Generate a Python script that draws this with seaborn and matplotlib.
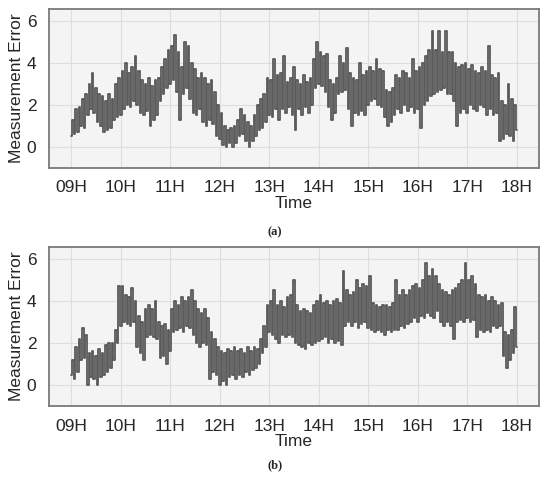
import matplotlib
matplotlib.use("Agg")
import matplotlib.pyplot as plt
import seaborn as sns
import numpy as np
import pandas as pd

# measurement error read every 2 minutes, 09:00 -> 18:00 (one row = 20 min)
step_min = 2
err_a = [
    0.5, 1.3, 0.6, 1.8, 0.7, 1.9, 1.0, 2.3, 0.9, 2.5,
    1.5, 3.0, 1.8, 3.5, 1.6, 2.8, 1.2, 2.5, 1.0, 2.4,
    0.7, 2.2, 0.8, 2.5, 0.9, 2.3, 1.3, 3.0, 1.4, 3.3,
    1.5, 3.6, 1.8, 4.0, 2.0, 3.5, 1.9, 3.8, 2.2, 4.3,
    2.0, 3.6, 1.6, 3.2, 1.5, 3.0, 1.7, 3.3, 1.0, 2.9,
    1.3, 3.2, 1.5, 3.3, 2.2, 3.8, 2.5, 4.2, 2.8, 4.6,
    3.0, 4.8, 3.2, 5.3, 2.6, 4.5, 1.3, 3.8, 2.5, 5.0,
    2.8, 4.8, 2.3, 4.0, 1.6, 3.7, 1.5, 3.3, 1.8, 3.5,
    1.2, 3.3, 1.0, 3.0, 1.3, 3.2, 1.1, 2.6, 0.5, 2.0,
    0.4, 1.6, 0.1, 1.0, 0.0, 0.8, 0.2, 0.9, 0.0, 1.0,
    0.2, 1.3, 0.5, 1.8, 0.6, 1.5, 0.3, 1.2, 0.0, 1.0,
    0.3, 1.5, 0.5, 2.0, 0.8, 2.3, 0.9, 2.5, 1.2, 3.3,
    1.5, 3.2, 1.4, 4.2, 1.8, 3.4, 1.3, 3.5, 1.8, 4.3,
    1.6, 3.1, 1.9, 3.3, 1.5, 3.8, 0.8, 3.2, 1.8, 3.0,
    1.5, 3.4, 1.9, 3.1, 1.6, 3.3, 2.0, 4.2, 2.8, 5.0,
    3.0, 4.5, 2.9, 4.3, 2.6, 4.4, 1.9, 3.2, 1.3, 3.0,
    1.6, 3.3, 2.5, 4.3, 2.6, 4.0, 2.7, 4.7, 1.8, 3.5,
    1.0, 3.3, 1.6, 3.2, 1.5, 4.0, 1.7, 3.4, 1.5, 3.6,
    2.0, 3.8, 2.2, 3.6, 2.3, 4.2, 2.0, 3.7, 1.9, 3.6,
    1.4, 2.7, 1.0, 2.6, 1.2, 2.8, 1.5, 3.4, 1.8, 3.3,
    1.6, 3.6, 2.0, 3.5, 1.7, 3.3, 1.9, 4.2, 1.6, 3.6,
    1.8, 3.8, 0.9, 4.0, 2.0, 4.3, 2.2, 4.6, 2.4, 5.5,
    2.5, 4.6, 2.6, 5.5, 2.7, 4.5, 2.8, 5.5, 2.5, 4.5,
    2.5, 4.5, 2.2, 4.0, 1.0, 3.8, 1.6, 3.9, 1.8, 4.0,
    1.6, 3.7, 2.0, 3.9, 1.8, 3.6, 1.7, 3.5, 2.0, 3.8,
    1.9, 3.6, 1.5, 4.8, 1.8, 3.4, 1.5, 3.3, 1.6, 3.5,
    0.3, 2.2, 0.4, 2.0, 0.6, 3.0, 0.5, 2.3, 0.3, 2.0,
    0.8,
]
err_b = [
    0.5, 1.2, 0.3, 1.8, 0.6, 2.2, 1.2, 2.7, 1.3, 2.4,
    0.0, 1.5, 0.4, 1.6, 0.3, 1.4, 0.0, 1.7, 0.4, 1.5,
    0.5, 1.9, 0.6, 2.0, 0.8, 2.0, 1.2, 2.6, 2.0, 4.7,
    2.8, 4.7, 3.0, 4.3, 2.9, 4.2, 2.8, 4.6, 3.0, 4.0,
    1.8, 3.3, 1.5, 3.0, 1.2, 3.6, 2.3, 3.8, 2.4, 3.6,
    2.3, 4.0, 2.2, 3.0, 1.3, 2.8, 1.4, 2.9, 1.0, 2.6,
    1.6, 3.6, 2.5, 4.0, 2.6, 3.8, 2.7, 4.2, 2.5, 4.0,
    2.8, 4.2, 2.7, 4.5, 2.4, 4.0, 2.0, 3.6, 1.8, 3.4,
    2.0, 3.6, 1.9, 3.2, 0.3, 2.5, 0.6, 2.2, 0.5, 1.8,
    0.0, 1.6, 0.2, 1.5, 0.0, 1.7, 0.4, 1.6, 0.5, 1.8,
    0.3, 1.6, 0.5, 1.7, 0.4, 1.5, 0.6, 1.8, 0.5, 1.6,
    0.7, 1.8, 0.8, 1.7, 1.0, 2.2, 1.5, 2.8, 1.8, 3.8,
    2.5, 4.0, 2.4, 4.5, 2.2, 3.8, 2.0, 4.0, 2.4, 3.7,
    2.3, 4.2, 2.4, 4.3, 2.3, 5.0, 2.0, 3.8, 1.9, 3.5,
    1.8, 3.6, 1.7, 3.5, 2.0, 3.4, 1.9, 3.8, 2.0, 4.0,
    2.1, 4.3, 2.2, 3.9, 2.3, 4.0, 2.0, 3.8, 2.2, 4.0,
    2.0, 4.1, 2.1, 3.9, 1.9, 5.4, 2.8, 4.5, 3.0, 4.3,
    2.8, 4.4, 3.0, 5.0, 2.7, 4.6, 2.9, 4.8, 3.0, 4.7,
    2.7, 5.2, 2.6, 3.9, 2.5, 3.8, 2.6, 3.7, 2.5, 3.8,
    2.4, 3.8, 2.6, 3.7, 2.5, 3.9, 2.6, 5.0, 2.6, 4.3,
    2.8, 4.5, 2.7, 4.3, 2.9, 4.5, 3.0, 4.7, 3.2, 4.8,
    3.0, 4.6, 3.3, 5.0, 3.2, 5.8, 3.4, 5.2, 3.3, 5.5,
    3.2, 5.2, 3.5, 4.8, 3.0, 4.5, 2.8, 4.4, 3.0, 4.3,
    2.8, 4.5, 2.2, 4.6, 3.0, 4.8, 3.1, 5.0, 3.0, 5.8,
    3.2, 5.0, 3.0, 5.2, 3.1, 4.8, 2.3, 4.3, 2.6, 4.2,
    2.5, 4.3, 2.6, 4.0, 2.5, 4.2, 2.8, 4.0, 2.7, 3.8,
    2.8, 3.9, 1.4, 2.5, 0.8, 2.4, 1.2, 2.6, 1.5, 3.7,
    1.8,
]
hour_ticks = list(range(9, 19))
hour_labels = [f"{h:02d}H" for h in hour_ticks]
panel_tags = ["(a)", "(b)"]

sns.set_theme(style="whitegrid")
plt.rcParams["font.family"] = ["Liberation Sans", "DejaVu Sans"]

fig = plt.figure(figsize=(5.5, 4.8), dpi=100)
boxes = [[0.089, 0.650, 0.891, 0.331], [0.089, 0.154, 0.891, 0.331]]
tag_y = [0.517, 0.030]

for box, err, tag, ty in zip(boxes, [err_a, err_b], panel_tags, tag_y):
    ax = fig.add_axes(box)
    df = pd.DataFrame({"hour": 9 + np.arange(len(err)) * step_min / 60, "err": err})
    sns.lineplot(data=df, x="hour", y="err", ax=ax, color="#5a5a5a",
                 linewidth=1.3, drawstyle="steps-mid")
    ax.set_facecolor("#f4f4f4")
    ax.set_xlim(8.55, 18.45)
    ax.set_ylim(-1, 6.55)
    ax.set_xticks(hour_ticks)
    ax.set_xticklabels(hour_labels, fontsize=12.5)
    ax.set_yticks([0, 2, 4, 6])
    ax.tick_params(axis="y", labelsize=12.5, pad=3)
    ax.tick_params(axis="x", pad=3)
    ax.grid(True, color="#dedede", linewidth=0.8)
    for s in ax.spines.values():
        s.set_color("#7a7a7a")
        s.set_linewidth(1.3)
    ax.set_xlabel("Time", fontsize=12.5, labelpad=0)
    ax.set_ylabel("Measurement Error", fontsize=12.5, labelpad=2)
    fig.text(0.5, ty, tag, ha="center", va="center", fontsize=9,
             family=["Liberation Serif", "DejaVu Serif"], fontweight="bold")

fig.savefig("out.png", dpi=100)
